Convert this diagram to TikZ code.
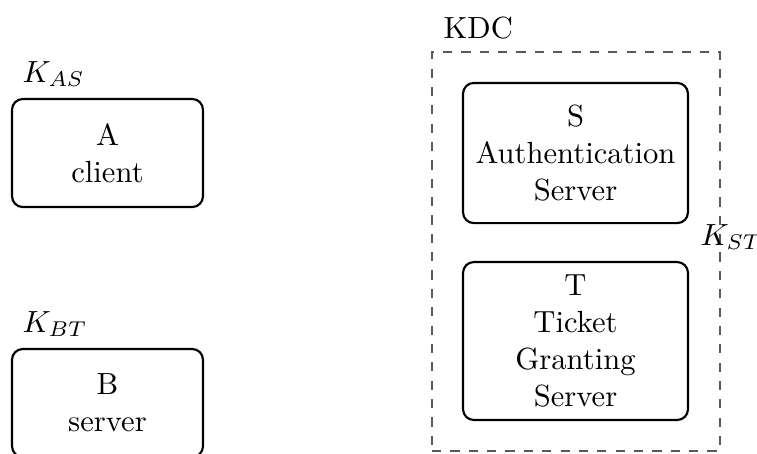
\documentclass[tikz,border=0pt]{standalone}
\usetikzlibrary{positioning}
\begin{document}
\begin{tikzpicture}[x=0.3268pt,y=-0.3268pt,
  box/.style={draw,line width=0.7pt,rounded corners=3.5pt,align=center,inner sep=0pt},
  kdcbox/.style={draw=black!65,dashed,line width=0.4pt,inner sep=0pt},
  keylabel/.style={anchor=base west,inner sep=0pt}]
\useasboundingbox (0,0) rectangle (757,453);
\node[kdcbox,minimum width=94.1pt,minimum height=130.4pt] (kdc) at (576,251.5) {};
\node[box,minimum width=62.4pt,minimum height=35.3pt] (A) at (107.5,153) {A\\client};
\node[box,minimum width=62.4pt,minimum height=35.3pt] (B) at (107.5,403) {B\\server};
\node[box,minimum width=73.5pt,minimum height=45.8pt] (S) at (575.5,153) {S\\Authentication\\Server};
\node[box,minimum width=73.5pt,minimum height=51.6pt] (T) at (575.5,341) {T\\Ticket\\Granting\\Server};
\node[keylabel] (kas) at (22,82) {$K_{AS}$};
\node[keylabel] (kbt) at (22,332) {$K_{BT}$};
\node[keylabel] (kdclabel) at (443,38) {KDC};
\node[keylabel] (kst) at (700,245) {$K_{ST}$};
\end{tikzpicture}
\end{document}
